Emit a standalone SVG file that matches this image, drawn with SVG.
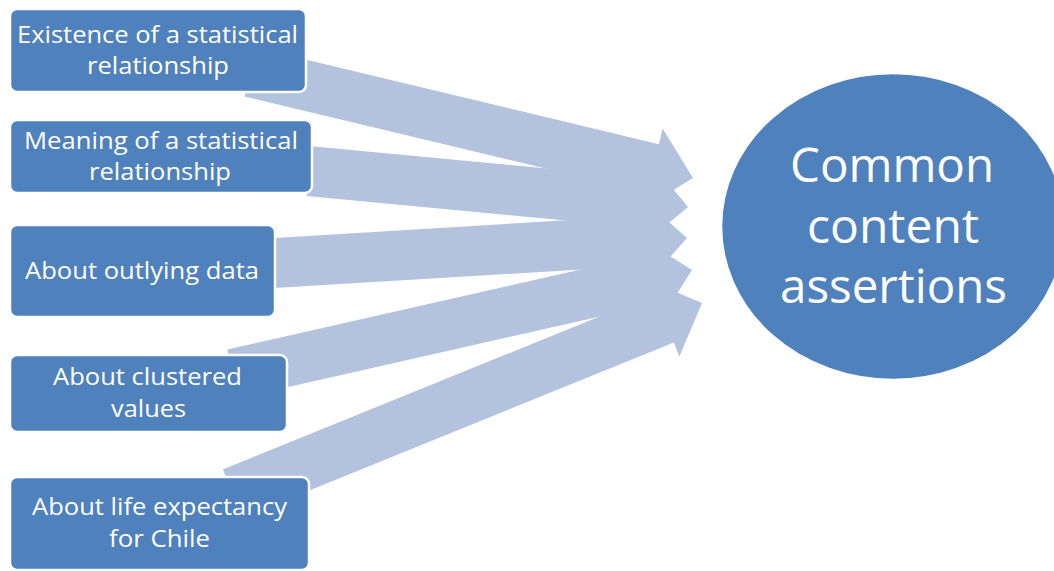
<svg xmlns="http://www.w3.org/2000/svg" width="1054" height="571" viewBox="0 0 1054 571">
  <style>
    .box { fill: #4F81BD; stroke: #FFFFFF; stroke-width: 2.5; }
    .hub { fill: #4F81BD; stroke: #FFFFFF; stroke-width: 2.5; }
    .arrow { fill: #B3C2DD; stroke: none; }
    .lbl { font-family: "Open Sans", "Liberation Sans", sans-serif; font-size: 24px; fill: #FFFFFF; text-anchor: middle; }
    .big { font-family: "Open Sans", "Liberation Sans", sans-serif; font-size: 48px; fill: #FFFFFF; text-anchor: middle; }
  </style>
  <rect width="1054" height="571" fill="#FFFFFF"/>
  <g id="connectors">
    <polygon class="arrow" points="256.2,47.8 658.9,144.2 662.6,128.6 693,178 643.6,208.4 647.3,192.8 244.6,96.4"/>
    <polygon class="arrow" points="311.5,146.2 649.6,178.2 651.1,162.3 688,207 643.3,243.9 644.8,228.0 306.7,196.0"/>
    <polygon class="arrow" points="220.4,241.3 644.6,215.5 643.6,199.6 687,238 648.6,281.4 647.6,265.4 223.4,291.2"/>
    <polygon class="arrow" points="227.4,349.4 646.5,254.6 643.0,239.0 692,270 661.0,319.0 657.5,303.4 238.4,398.2"/>
    <polygon class="arrow" points="222.9,469.4 654.2,294.3 648.6,280.4 702,303 679.4,356.4 673.8,342.5 242.5,517.6"/>
  </g>
  <g id="node-existence">
    <rect class="box" x="10" y="9" width="296" height="83" rx="7"/>
    <text class="lbl" x="157.5" y="43" textLength="281" lengthAdjust="spacingAndGlyphs">Existence of a statistical</text>
    <text class="lbl" x="158" y="74" textLength="142" lengthAdjust="spacingAndGlyphs">relationship</text>
  </g>
  <g id="node-meaning">
    <rect class="box" x="10" y="120" width="302" height="73" rx="7"/>
    <text class="lbl" x="161" y="149" textLength="274" lengthAdjust="spacingAndGlyphs">Meaning of a statistical</text>
    <text class="lbl" x="160" y="180" textLength="142" lengthAdjust="spacingAndGlyphs">relationship</text>
  </g>
  <g id="node-outlying">
    <rect class="box" x="10" y="225" width="265" height="92" rx="7"/>
    <text class="lbl" x="142" y="279" textLength="234" lengthAdjust="spacingAndGlyphs">About outlying data</text>
  </g>
  <g id="node-clustered">
    <rect class="box" x="10" y="355" width="277" height="77" rx="7"/>
    <text class="lbl" x="147.5" y="385" textLength="189" lengthAdjust="spacingAndGlyphs">About clustered</text>
    <text class="lbl" x="148.5" y="417" textLength="75" lengthAdjust="spacingAndGlyphs">values</text>
  </g>
  <g id="node-life">
    <rect class="box" x="10" y="477" width="299" height="93" rx="7"/>
    <text class="lbl" x="159.5" y="515" textLength="255" lengthAdjust="spacingAndGlyphs">About life expectancy</text>
    <text class="lbl" x="159.5" y="547" textLength="101" lengthAdjust="spacingAndGlyphs">for Chile</text>
  </g>
  <g id="node-common">
    <ellipse class="hub" cx="893" cy="226.5" rx="172" ry="153.5"/>
    <text class="big" x="892" y="182" textLength="204" lengthAdjust="spacingAndGlyphs">Common</text>
    <text class="big" x="893" y="243" textLength="172" lengthAdjust="spacingAndGlyphs">content</text>
    <text class="big" x="893.5" y="303" textLength="227" lengthAdjust="spacingAndGlyphs">assertions</text>
  </g>
</svg>
